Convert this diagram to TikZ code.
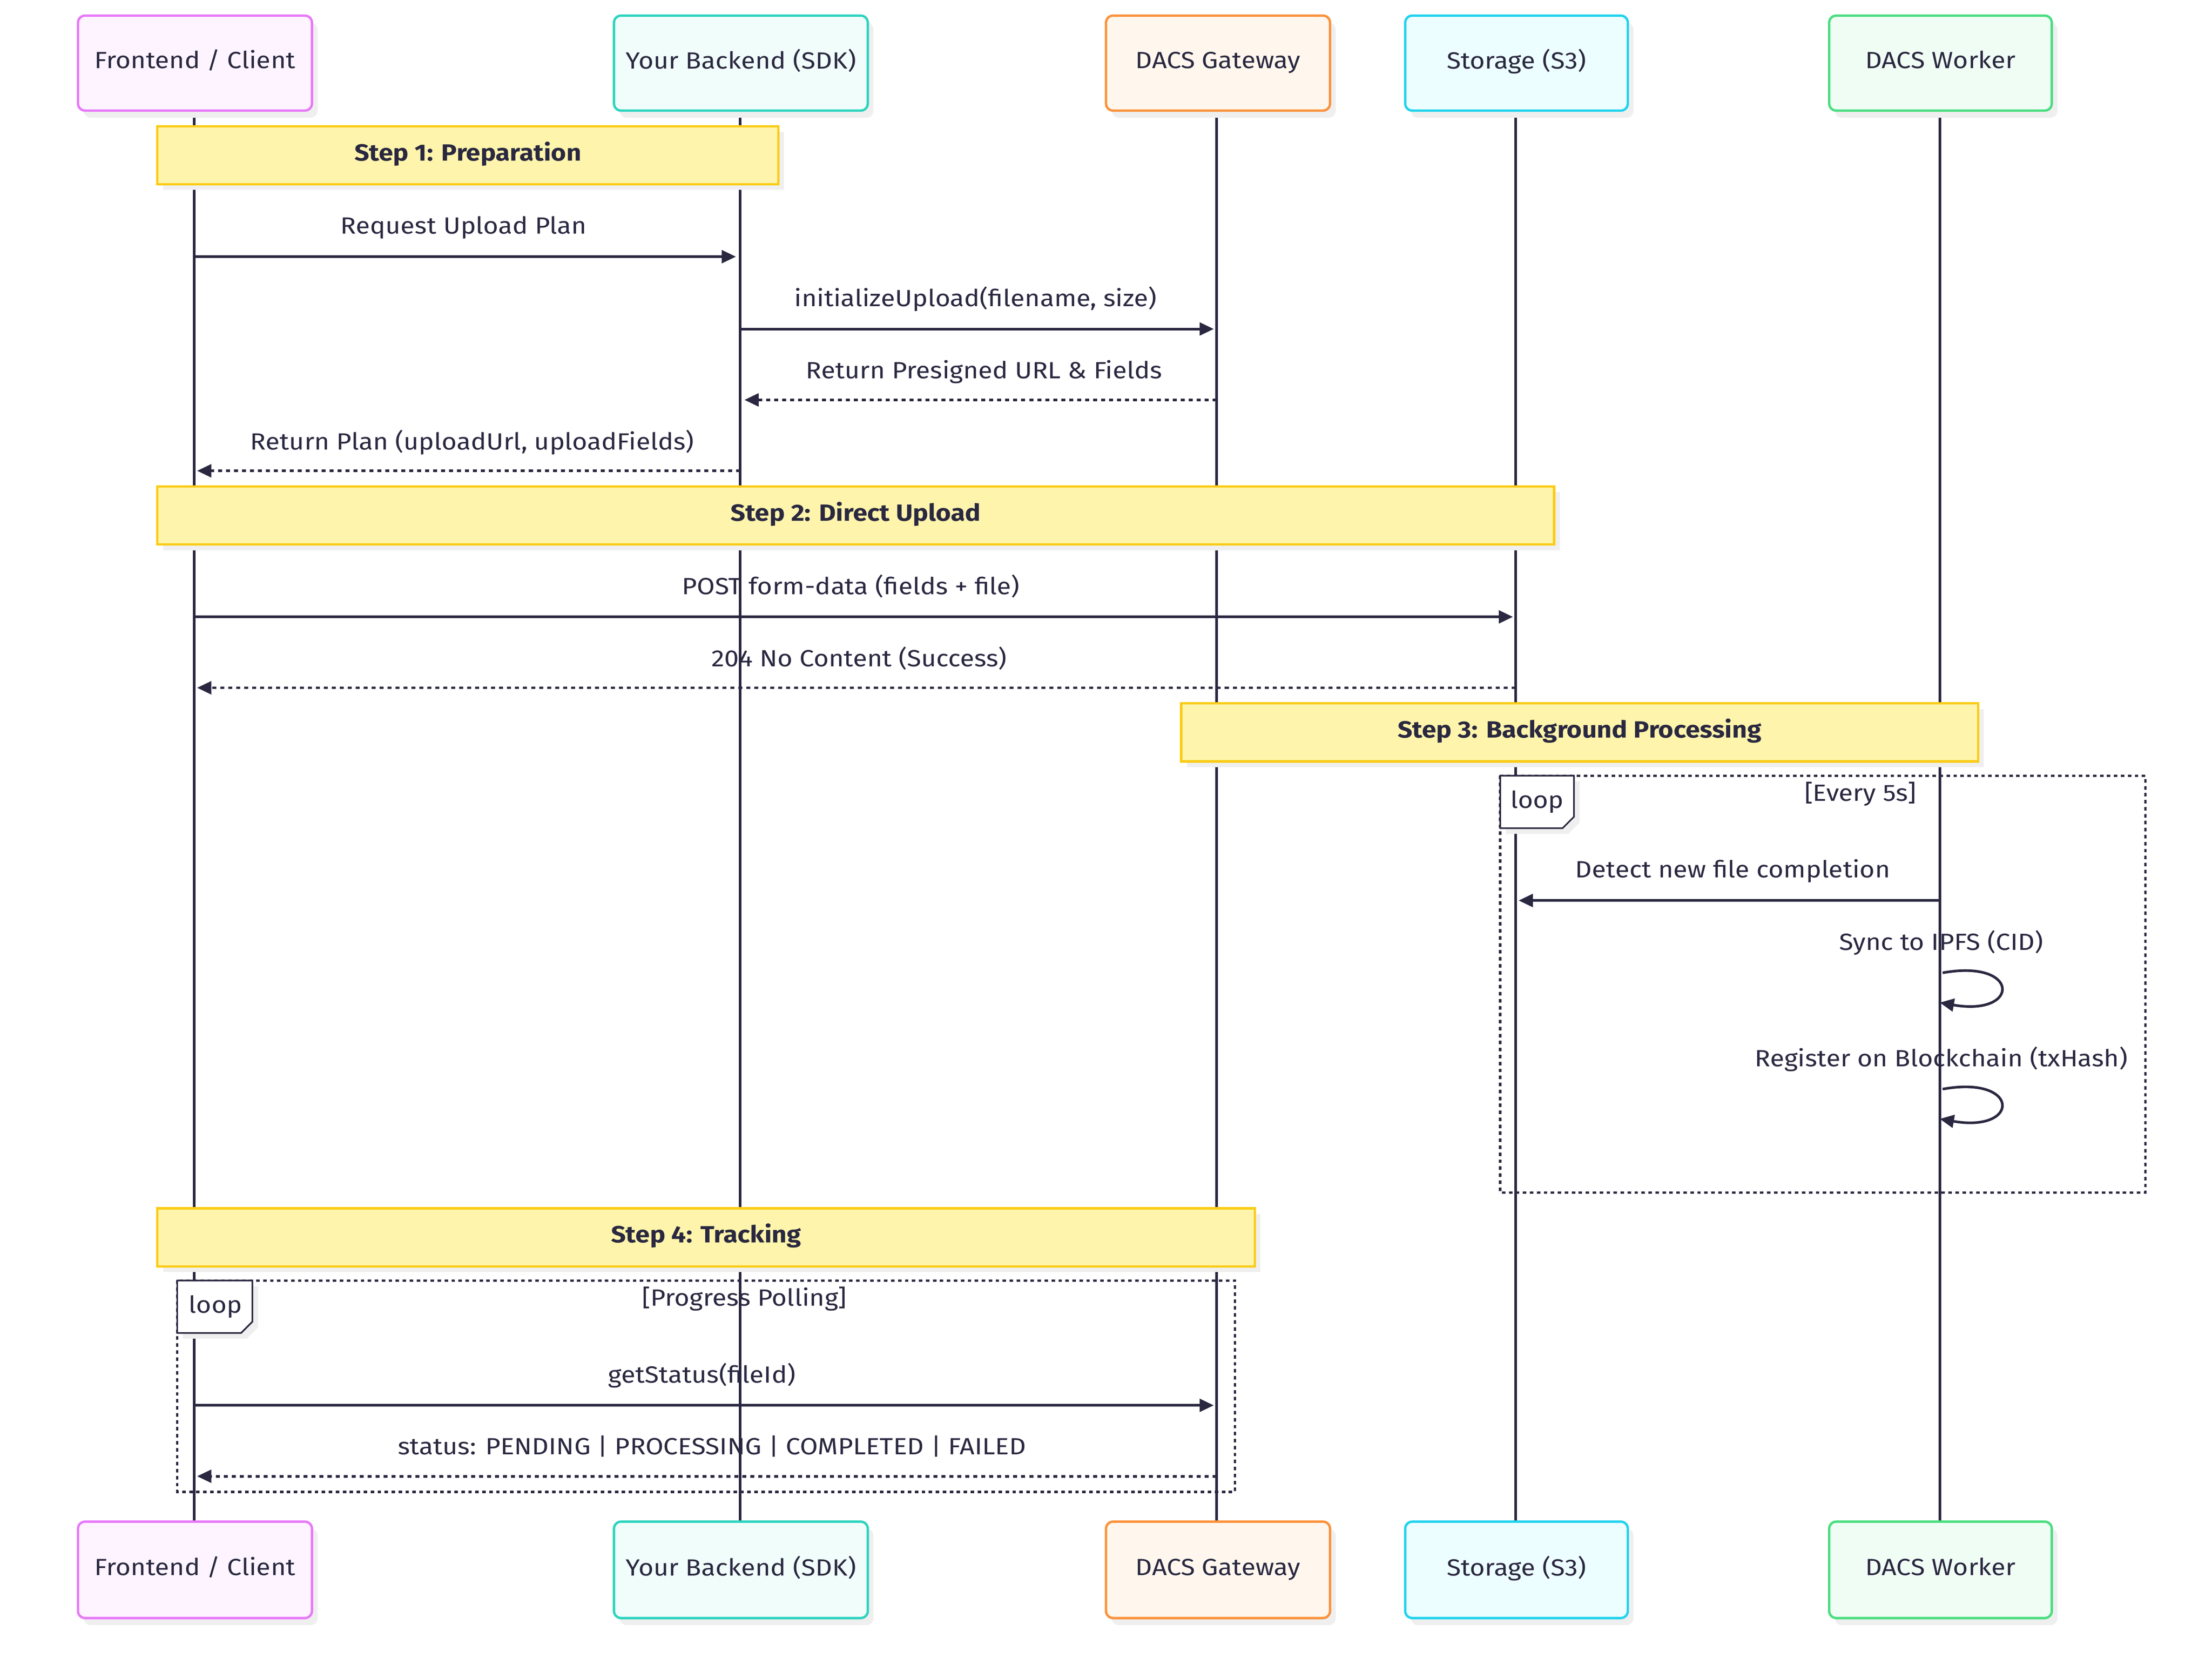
\documentclass[tikz,border=0pt]{standalone}
\usepackage{fontspec}
\setmainfont{Fira Sans}[FakeStretch=1.11]
\usetikzlibrary{arrows.meta}
\definecolor{ink}{HTML}{2A2840}
\definecolor{shadow}{HTML}{EFEFEF}
\definecolor{noteF}{HTML}{FEF4AB}
\definecolor{noteS}{HTML}{FACC15}
\begin{document}
\begin{tikzpicture}[x=0.05cm,y=-0.05cm,
  every node/.style={font=\fontsize{23.5}{27}\selectfont, text=ink},
  actor/.style={draw, line width=2.4pt, rounded corners=0.25cm, inner sep=0pt},
  note/.style={draw=noteS, fill=noteF, line width=2.4pt},
  lbl/.style={inner sep=0pt, anchor=center},
  life/.style={draw=ink, line width=2.6pt},
  msg/.style={draw=ink, line width=2.6pt, -{Triangle[length=0.5cm,width=0.45cm]}},
  rep/.style={msg, dash pattern=on 4pt off 4pt},
  loopbox/.style={draw=ink, line width=2.4pt, dash pattern=on 3.5pt off 3.5pt},
  bold/.style={font=\fontsize{23.5}{27}\selectfont\bfseries}]
\useasboundingbox (0,0) rectangle (1560,1179);
\fill[white] (0,0) rectangle (1560,1179);
% lifelines
\foreach \n/\x in {fc/137,be/522,gw/858,st/1069,wk/1368}{
  \coordinate (\n top) at (\x,78); \coordinate (\n bot) at (\x,1073);
  \path[life] (\n top) -- (\n bot);
}
% actors
\foreach \n/\l/\r/\s/\f/\t in {fc/55/220/E879F9/FDF4FF/{Frontend / Client},be/433/612/2DD4BF/F0FDFA/Your Backend (SDK),gw/780/938/FB923C/FFF7ED/DACS Gateway,st/991/1148/22D3EE/ECFEFF/Storage (S3),wk/1290/1447/4ADE80/F0FDF4/DACS Worker}{
  \definecolor{cs}{HTML}{\s}\definecolor{cf}{HTML}{\f}
  \foreach \a/\b in {11/78,1073/1141}{
    \fill[shadow, rounded corners=0.25cm] (\l+4,\a+5) rectangle (\r+4,\b+5);
    \draw[actor, draw=cs, fill=cf] (\l,\a) rectangle (\r,\b);
  }
  \node[lbl] (\n A) at ({(\l+\r)/2},44.5) {\strut\t};
  \node[lbl] (\n B) at ({(\l+\r)/2},1107) {\strut\t};
}
% notes
\foreach \n/\l/\r/\a/\b/\t in {n1/111/549/89/130/Step 1: Preparation,n2/111/1096/343/384/Step 2: Direct Upload,n3/833/1395/496/537/Step 3: Background Processing,n4/111/885/852/893/Step 4: Tracking}{
  \fill[shadow] (\l+4,\a+4) rectangle (\r+4,\b+4);
  \draw[note] (\l,\a) rectangle (\r,\b);
  \node[lbl, bold] (\n) at ({(\l+\r)/2},{(\a+\b)/2}) {\strut\t};
}
% loop boxes
\draw[loopbox] (1058,547) rectangle (1513,841);
\fill[shadow] (1062,551) -- (1114,551) -- (1114,580) -- (1106,588) -- (1062,588) -- cycle;
\draw[ink, line width=1.6pt, fill=white] (1058,547) -- (1110,547) -- (1110,576) -- (1102,584) -- (1058,584) -- cycle;
\node[lbl] (loop1) at (1084,566) {\strut loop};
\node[lbl] (cond1) at (1312,561) {\strut[Every 5s]};
\draw[loopbox] (125,903) rectangle (871,1052);
\fill[shadow] (129,907) -- (182,907) -- (182,936) -- (174,944) -- (129,944) -- cycle;
\draw[ink, line width=1.6pt, fill=white] (125,903) -- (178,903) -- (178,932) -- (170,940) -- (125,940) -- cycle;
\node[lbl] (loop2) at (152,922) {\strut loop};
\node[lbl] (cond2) at (525,917) {\strut[Progress Polling]};
% messages
\foreach \n/\a/\b/\y/\s in {m1/137/519/181/msg,m2/522/856/232/msg,m3/858/525/282/rep,m4/522/139/332/rep,m5/137/1067/435/msg,m6/1069/139/485/rep,m7/1368/1071/635/msg,m10/137/856/991/msg,m11/858/139/1041/rep}{
  \coordinate (\n s) at (\a,\y); \coordinate (\n e) at (\b,\y);
  \draw[\s] (\n s) -- (\n e);
}
\node[lbl] (t1) at (327,161) {\strut Request Upload Plan};
\node[lbl] (t2) at (688,212) {\strut initializeUpload(filename, size)};
\node[lbl] (t3) at (694,263) {\strut Return Presigned URL \& Fields};
\node[lbl] (t4) at (333,313) {\strut Return Plan (uploadUrl, uploadFields)};
\node[lbl] (t5) at (600,415) {\strut POST form-data (fields + file)};
\node[lbl] (t6) at (606,466) {\strut 204 No Content (Success)};
\node[lbl] (t7) at (1222,615) {\strut Detect new file completion};
\node[lbl] (t8) at (1369,666) {\strut Sync to IPFS (CID)};
\node[lbl] (t9) at (1369,748) {\strut Register on Blockchain (txHash)};
\node[lbl] (t10) at (495,971) {\strut getStatus(fileId)};
\node[lbl] (t11) at (502,1022) {\strut status: PENDING | PROCESSING | COMPLETED | FAILED};
% self loops
\coordinate (s1s) at (1370,686); \coordinate (s1e) at (1368,707);
\draw[msg] (s1s) .. controls (1425,676) and (1425,717) .. (s1e);
\coordinate (s2s) at (1370,768); \coordinate (s2e) at (1368,789);
\draw[msg] (s2s) .. controls (1425,758) and (1425,799) .. (s2e);
\end{tikzpicture}
\end{document}
